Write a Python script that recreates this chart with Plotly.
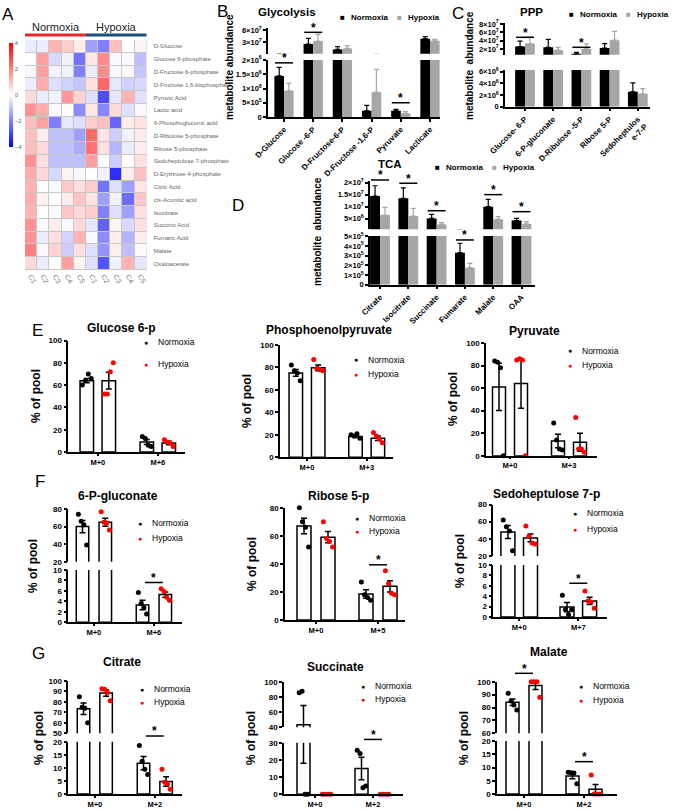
import numpy as np
import plotly.graph_objects as go

W, H = 685, 811
FONT = "Liberation Sans, Arial, sans-serif"
GREY = "#a6a6a6"
RED = "#ff0000"

# ---------------- A: heatmap ----------------
hm_rows = ["D-Glucose", "Glucose 6-phosphate", "D-Fructose 6-phosphate",
           "D-Fructose 1,6-bisphosphate", "Pyruvic Acid", "Lactic acid",
           "6-Phosphogluconic acid", "D-Ribulose 5-phosphate", "Ribose 5-phosphate",
           "Sedoheptulose 7-phosphate", "D-Erythrose 4-phosphate", "Citric Acid",
           "cis-Aconitic acid", "Isocitrate", "Succinic Acid", "Fumaric Acid",
           "Malate", "Oxaloacetate"]
hm_cols = ["C1", "C2", "C3", "C4", "C5", "C1", "C2", "C3", "C4", "C5"]
hm_z = [
    [-0.3, -0.3, 1.2, 0.8, 0.3, -1.5, -2.0, 1.0, 0.0, 0.2],
    [0.0, 1.5, -0.6, -0.2, -2.2, 0.4, 1.8, -0.1, -0.1, -1.0],
    [-0.1, 1.5, -0.2, -0.2, -2.0, -0.3, 1.8, -0.1, 0.1, -0.9],
    [-0.3, 1.3, -0.5, -0.7, -0.9, 0.5, 2.4, -0.4, -0.7, -0.6],
    [0.6, -0.3, -0.2, 1.6, 0.7, -0.5, -2.8, -0.4, 1.2, -0.5],
    [1.7, 1.3, -0.1, 0.0, -1.8, 0.4, -1.9, 0.6, -0.5, -0.1],
    [1.0, 1.5, -2.0, -0.4, -0.5, 0.8, 1.0, -2.4, 0.3, 0.5],
    [1.0, 0.3, -1.0, -1.0, -1.5, 2.3, 0.4, -0.8, -0.2, 0.3],
    [1.0, 0.6, -1.0, -1.0, -1.3, 2.2, 0.5, -1.2, -0.3, 0.3],
    [1.7, 0.5, -1.0, -1.0, -1.0, 1.5, 0.0, -0.8, 0.0, 0.5],
    [1.3, 0.6, -0.6, 0.2, -0.1, 0.0, -0.2, -3.3, 0.3, 1.0],
    [1.2, 0.0, -0.1, 0.9, 0.5, 0.8, -2.2, -0.5, -1.5, 0.4],
    [1.3, 0.2, 0.0, 0.3, 0.9, 0.4, -1.5, -0.2, -2.3, 0.9],
    [1.2, 0.0, -0.1, 0.9, 0.6, 0.8, -2.0, -0.5, -1.5, 0.5],
    [1.7, -0.1, 0.3, -0.1, 0.6, -0.4, -2.5, 0.2, -0.6, 0.5],
    [1.7, -0.3, 0.5, -0.7, 1.2, -0.1, -1.8, 0.3, -1.2, 0.3],
    [2.0, -0.1, 0.7, -0.8, 0.5, -0.5, -1.7, 0.3, -1.0, 0.1],
    [0.6, -0.3, 0.0, 1.5, 0.2, -0.5, -2.7, -0.2, 1.2, -0.4],
]

# ---------------- B: glycolysis ----------------
gly_cats = ["D-Glucose", "Glucose -6-P", "D-Fructose-6-P", "D-Fructose -1,6-P", "Pyruvate", "Lacticate"]
gly_norm = [1.44e6, 2.6e7, 1.3e7, 2.2e5, 2.2e5, 3.89e7]
gly_norm_err = [0.3e6, 1.37e7, 0.65e7, 1.9e5, 0.5e5, 0.5e7]
gly_hyp = [0.92e6, 3.32e7, 1.54e7, 8.7e5, 1.3e5, 3.4e7]
gly_hyp_err = [0.26e6, 1.63e7, 0.65e7, 8.0e5, 0.6e5, 0.33e7]
gly_sig = [(0, 0, 1.9e6), (1, 1, 5.44e7), (4, 0, 5.0e5)]
gly_ticks_lo = [0, 5e5, 1e6, 1.5e6, 2e6]
gly_text_lo = ["0", "5×10<sup>5</sup>", "1×10<sup>6</sup>", "1.5×10<sup>6</sup>", "2×10<sup>6</sup>"]
gly_ticks_hi = [3e7, 6e7]
gly_text_hi = ["3×10<sup>7</sup>", "6×10<sup>7</sup>"]

# ---------------- C: PPP ----------------
ppp_cats = ["Glucose- 6-P", "6-P-gluconate", "D-Ribulose -5-P", "Ribose 5-P", "Sedoheptulos<br>e-7-P"]
ppp_norm = [2.56e7, 2.4e7, 8.5e6, 2.2e7, 2.55e6]
ppp_norm_err = [1.3e7, 1.9e7, 3.5e6, 1.1e7, 1.55e6]
ppp_hyp = [3.3e7, 1.7e7, 2.0e7, 4.1e7, 2.2e6]
ppp_hyp_err = [1.5e7, 0.7e7, 1.2e7, 2.1e7, 0.9e6]
ppp_sig = [(0, 1, 4.8e7), (2, 1, 2.4e7)]
ppp_ticks_lo = [0, 2e6, 4e6, 6e6]
ppp_text_lo = ["0", "2×10<sup>6</sup>", "4×10<sup>6</sup>", "6×10<sup>6</sup>"]
ppp_ticks_hi = [2e7, 4e7, 6e7, 8e7]
ppp_text_hi = ["2×10<sup>7</sup>", "4×10<sup>7</sup>", "6×10<sup>7</sup>", "8×10<sup>7</sup>"]

# ---------------- D: TCA ----------------
tca_cats = ["Citrate", "Isocitrate", "Succinate", "Fumarate", "Malate", "OAA"]
tca_norm = [1.44e7, 1.35e7, 5.1e6, 3.31e5, 1.0e7, 4.2e6]
tca_norm_err = [4.3e6, 4.3e6, 1.7e6, 0.97e5, 3.0e6, 0.9e6]
tca_hyp = [6.5e6, 6.1e6, 2.6e6, 1.76e5, 4.7e6, 2.8e6]
tca_hyp_err = [3.2e6, 3.2e6, 0.7e6, 0.44e5, 1.1e6, 0.95e6]
tca_sig = [(0, 1, 2.11e7), (1, 1, 1.975e7), (2, 1, 8.3e6), (3, 0, 4.62e5), (4, 1, 1.5e7), (5, 1, 7.9e6)]
tca_ticks_lo = [0, 1e5, 2e5, 3e5, 4e5, 5e5]
tca_text_lo = ["0", "1×10<sup>5</sup>", "2×10<sup>5</sup>", "3×10<sup>5</sup>", "4×10<sup>5</sup>", "5×10<sup>5</sup>"]
tca_ticks_hi = [5e6, 1e7, 1.5e7, 2e7]
tca_text_hi = ["5×10<sup>6</sup>", "1×10<sup>7</sup>", "1.5×10<sup>7</sup>", "2×10<sup>7</sup>"]

# ---------------- E/F/G: % of pool ----------------
g6p_lab = ["M+0", "M+6"]
g6p_n, g6p_n_sem, g6p_n_pts = [64, 9], [2, 2.3], [[60, 64, 70, 66], [14, 12, 6, 5]]
g6p_h, g6p_h_sem, g6p_h_pts = [64, 8], [7.5, 1.6], [[52, 52, 72, 80], [11, 9, 8, 5]]

pep_lab = ["M+0", "M+3"]
pep_n, pep_n_sem, pep_n_pts = [75, 18.5], [3, 0.8], [[82, 77, 75, 68], [20, 19, 21, 17]]
pep_h, pep_h_sem, pep_h_pts = [79.5, 17], [2.5, 2], [[87, 79, 78, 77], [22, 19, 16, 13]]

pyr_lab = ["M+0", "M+3"]
pyr_n, pyr_n_sem, pyr_n_pts = [61, 13], [21, 6], [[84, 83, 78, 0], [29, 14, 6, 5]]
pyr_h, pyr_h_sem, pyr_h_pts = [64, 12], [22, 8], [[85, 86, 85, 0], [34, 6, 6, 3]]

pg_lab = ["M+0", "M+6"]
pg_n, pg_n_sem, pg_n_pts = [60, 3.3], [7, 0.9], [[74, 66, 62, 39], [5.7, 3.6, 2.8, 1.6]]
pg_h, pg_h_sem, pg_h_pts = [65, 5.3], [4.5, 0.5], [[77, 65, 64, 56], [6.4, 5.9, 4.8, 4.2]]

r5p_lab = ["M+0", "M+5"]
r5p_n, r5p_n_sem, r5p_n_pts = [67, 18.5], [5.5, 3], [[80, 70, 66, 52], [27, 18, 16, 14]]
r5p_h, r5p_h_sem, r5p_h_pts = [59, 24], [4, 4], [[70, 58, 56, 52], [35, 26, 19, 18]]

s7p_lab = ["M+0", "M+7"]
s7p_n, s7p_n_sem, s7p_n_pts = [48, 1.9], [7.5, 0.9], [[62, 54, 49, 26], [4.2, 1.4, 0.5, 1.4]]
s7p_h, s7p_h_sem, s7p_h_pts = [41, 3.1], [4.5, 0.7], [[55, 43, 35, 34], [5.0, 3.1, 2.9, 1.7]]

cit_lab = ["M+0", "M+2"]
cit_n, cit_n_sem, cit_n_pts = [73.5, 11.8], [5.5, 2.5], [[85, 75, 74, 60], [18.5, 12.5, 9.5, 7.5]]
cit_h, cit_h_sem, cit_h_pts = [88.5, 4.8], [3, 1.8], [[92.5, 92, 89, 81], [9.5, 4.5, 3.8, 1.8]]

suc_lab = ["M+0", "M+2"]
suc_n, suc_n_sem, suc_n_pts = [43.5, 15], [25.5, 6.5], [[86, 88, 0, 0], [25.6, 23.7, 3.8, 4.8]]
suc_h, suc_h_sem, suc_h_pts = [0, 0], [0, 0], [[0, 0, 0, 0], [0, 0, 0, 0]]

mal_lab = ["M+0", "M+2"]
mal_n, mal_n_sem, mal_n_pts = [84, 6.8], [2.5, 1], [[91, 85, 82, 78], [8.2, 8.0, 7.9, 3.9]]
mal_h, mal_h_sem, mal_h_pts = [97, 1.8], [3, 1.8], [[100, 100, 100, 88], [7.2, 0, 0, 0]]

# ================= figure building =================
fig = go.Figure()
layout = {}
shapes = []
annos = []
counters = {"x": 1, "y": 1}


def next_ax(letter):
    counters[letter] += 1
    n = counters[letter]
    return f"{letter}{n}", f"{letter}axis{n}"


def seg_paper(seg, v):
    top, bot, lo, hi = seg[:4]
    return 1 - (bot - (v - lo) / (hi - lo) * (bot - top)) / H


def text(x, y, s, size=10, bold=False, color="black", angle=0, xa="center", ya="middle"):
    annos.append(dict(x=x / W, y=1 - y / H, xref="paper", yref="paper", text=f"<b>{s}</b>" if bold else s,
                      showarrow=False, textangle=angle, xanchor=xa, yanchor=ya,
                      font=dict(family=FONT, size=size, color=color)))


def make_axes(left, right, xrange, segs, ticktext, tickangle, xfont, yfont):
    xref, xkey = next_ax("x")
    yrefs = []
    for seg in segs:
        top, bot, lo, hi, tv, tt = seg
        yref, ykey = next_ax("y")
        yrefs.append(yref)
        ax = dict(domain=[1 - bot / H, 1 - top / H], range=[lo, hi], anchor=xref,
                  tickvals=tv, showline=True, linecolor="black", linewidth=1.5,
                  ticks="outside", ticklen=3, tickwidth=1.5, tickcolor="black",
                  showgrid=False, zeroline=False,
                  tickfont=dict(family=FONT, size=yfont, color="black", weight="bold"))
        if tt is not None:
            ax["ticktext"] = tt
        layout[ykey] = ax
    layout[xkey] = dict(domain=[left / W, right / W], range=list(xrange), anchor=yrefs[0],
                        tickvals=list(range(len(ticktext))), ticktext=ticktext, tickangle=tickangle,
                        showline=True, linecolor="black", linewidth=1.5, ticks="outside", ticklen=3,
                        tickwidth=1.5, tickcolor="black", showgrid=False, zeroline=False,
                        tickfont=dict(family=FONT, size=xfont, color="black", weight="bold"))
    return xref, yrefs


def sig_mark(xref, segs, i, s, v, half):
    yp = seg_paper(segs[s], v)
    shapes.append(dict(type="line", xref=xref, yref="paper", x0=i - half, x1=i + half, y0=yp, y1=yp,
                       line=dict(color="black", width=1.5)))
    annos.append(dict(x=i, y=yp, xref=xref, yref="paper", text="<b>*</b>", showarrow=False,
                      yanchor="bottom", yshift=-4.5, font=dict(family=FONT, size=12, color="black")))


def bar_panel(left, right, c0, sp, segs, cats, nv, ne, hv, he, bw, sigs):
    xref, yrefs = make_axes(left, right, ((left - c0) / sp, (right - c0) / sp), segs, cats, -45, 8, 7.5)
    n = len(cats)
    for yref in yrefs:
        for vals, errs, col, off in ((nv, ne, "black", -bw), (hv, he, GREY, 0)):
            fig.add_trace(go.Bar(x=list(range(n)), y=vals, offset=off, width=bw,
                                 marker=dict(color=col, line=dict(width=0)),
                                 error_y=dict(type="data", array=errs, arrayminus=[0] * n, symmetric=False,
                                              color=col, thickness=1.2, width=2.5),
                                 xaxis=xref, yaxis=yref, showlegend=False, hoverinfo="skip"))
    for i, s, v in sigs:
        sig_mark(xref, segs, i, s, v, 9 / sp)


def dot_panel(axis_px, c0, sp, right, off, w, segs, labels, nv, ns, npts, hv, hs, hpts, sigs):
    xref, yrefs = make_axes(axis_px, right, ((axis_px - c0) / sp, (right - c0) / sp), segs, labels, 0, 7.5, 8)
    layout["xaxis" + xref[1:]]["ticklen"] = 2
    o, bw = off / sp, w / sp
    for yref in yrefs:
        for vals, sem, side in ((nv, ns, -1), (hv, hs, 1)):
            fig.add_trace(go.Bar(x=[0, 1], y=vals, offset=side * o - bw / 2, width=bw,
                                 marker=dict(color="white", line=dict(color="black", width=1.5)),
                                 error_y=dict(type="data", array=sem, color="black", thickness=1.5, width=3),
                                 xaxis=xref, yaxis=yref, showlegend=False, hoverinfo="skip"))
    los = [s[2] for s in segs]
    for pts, side, col in ((npts, -1, "black"), (hpts, 1, RED)):
        xs = [[] for _ in segs]
        ys = [[] for _ in segs]
        for i, grp in enumerate(pts):
            jit = np.linspace(-0.33, 0.33, len(grp)) * bw
            for j, v in enumerate(grp):
                k = max(idx for idx, lo in enumerate(los) if v >= lo or idx == 0)
                xs[k].append(i + side * o + jit[j])
                ys[k].append(v)
        for k, yref in enumerate(yrefs):
            if xs[k]:
                fig.add_trace(go.Scatter(x=xs[k], y=ys[k], mode="markers", cliponaxis=False,
                                         marker=dict(color=col, size=5), xaxis=xref, yaxis=yref,
                                         showlegend=False, hoverinfo="skip"))
    for i, s, v in sigs:
        sig_mark(xref, segs, i, s, v, 9 / sp)


# ---- A ----
fig.add_trace(go.Heatmap(z=hm_z, x=list(range(10)), y=list(range(18)), zmin=-4, zmax=4,
                         colorscale=[[0, "#0000ff"], [0.5, "#ffffff"], [1, "#ff0000"]], xgap=1, ygap=1,
                         xaxis="x", yaxis="y", hoverinfo="skip",
                         colorbar=dict(x=9 / W, xanchor="left", xpad=0, ypad=0, y=1 - 95 / H, yanchor="middle",
                                       len=104, lenmode="pixels", thickness=4, outlinewidth=0, ticks="",
                                       tickvals=[-4, -2, 0, 2, 4], tickfont=dict(family=FONT, size=6, color="#666"))))
layout["xaxis"] = dict(domain=[25 / W, 146.7 / W], range=[-0.5, 9.5], anchor="y", tickvals=list(range(10)),
                       ticktext=hm_cols, tickangle=60, showgrid=False, zeroline=False, showline=False,
                       tickfont=dict(family=FONT, size=7, color="#777"))
layout["yaxis"] = dict(domain=[1 - 270 / H, 1 - 40 / H], range=[17.5, -0.5], anchor="x", side="right",
                       tickvals=list(range(18)), ticktext=hm_rows, showgrid=False, zeroline=False,
                       ticklabelstandoff=6, tickfont=dict(family=FONT, size=6, color="#666"))
shapes.append(dict(type="rect", xref="x", yref="y", x0=-0.5, x1=9.5, y0=-0.5, y1=17.5, layer="below",
                   fillcolor="#c8c8c8", line=dict(width=0)))
shapes.append(dict(type="line", xref="x", yref="paper", x0=-0.5, x1=4.5, y0=1 - 35 / H, y1=1 - 35 / H,
                   line=dict(color="#e8262b", width=3)))
shapes.append(dict(type="line", xref="x", yref="paper", x0=4.5, x1=9.5, y0=1 - 35 / H, y1=1 - 35 / H,
                   line=dict(color="#1d4f7c", width=3)))
text(55.5, 26.5, "Normoxia", 11, color="#222")
text(116.7, 26.5, "Hypoxia", 11, color="#222")

# ---- B / C / D ----
bar_panel(268, 440, 284, 29.2,
          [(60, 117, 0, 2e6, gly_ticks_lo, gly_text_lo), (28, 53.7, 2.5e6, 6.49e7, gly_ticks_hi, gly_text_hi)],
          gly_cats, gly_norm, gly_norm_err, gly_hyp, gly_hyp_err, 0.33, gly_sig)
bar_panel(505, 650, 525, 28.2,
          [(70, 106.7, 0, 6.29e6, ppp_ticks_lo, ppp_text_lo), (22.7, 54.7, 6.2e6, 8.3e7, ppp_ticks_hi, ppp_text_hi)],
          ppp_cats, ppp_norm, ppp_norm_err, ppp_hyp, ppp_hyp_err, 0.35, ppp_sig)
bar_panel(370, 535, 380, 28.3,
          [(236, 284.7, 0, 5.03e5, tca_ticks_lo, tca_text_lo), (180.7, 229.3, 5.6e5, 2.08e7, tca_ticks_hi, tca_text_hi)],
          tca_cats, tca_norm, tca_norm_err, tca_hyp, tca_hyp_err, 0.35, tca_sig)

for tx, ty, title, lx, ly in ((287, 12, "Glycolysis", 338, 18), (531.7, 12, "PPP", 567, 14),
                              (390, 164, "TCA", 433, 167)):
    text(tx, ty, title, 11.5, bold=True)
    text(lx, ly, "■", 8, xa="left")
    text(lx + 11, ly, "Normoxia", 8, bold=True, xa="left")
    text(lx + 57, ly, "■", 8, color=GREY, xa="left")
    text(lx + 68, ly, "Hypoxia", 8, bold=True, xa="left")
text(230, 67, "metabolite abundance", 10, bold=True, angle=-90)
text(470, 66, "metabolite  abundance", 10, bold=True, angle=-90)
text(317, 232, "metabolite  abundance", 10, bold=True, angle=-90)

# ---- E / F / G ----
T100 = [0, 20, 40, 60, 80, 100]
dot_panel(68.3, 97.8, 60, 185, 11, 13.5, [(340.5, 452, 0, 100, T100, None)], g6p_lab,
          g6p_n, g6p_n_sem, g6p_n_pts, g6p_h, g6p_h_sem, g6p_h_pts, [])
dot_panel(280, 307, 59.7, 393.3, 11.2, 13.5, [(344.8, 457.3, 0, 100, T100, None)], pep_lab,
          pep_n, pep_n_sem, pep_n_pts, pep_h, pep_h_sem, pep_h_pts, [])
dot_panel(486, 510, 59, 597, 11, 13, [(343, 455.7, 0, 100, T100, None)], pyr_lab,
          pyr_n, pyr_n_sem, pyr_n_pts, pyr_h, pyr_h_sem, pyr_h_pts, [])

dot_panel(68.3, 93.9, 60, 181.7, 11.4, 12.5,
          [(570, 622.3, 0, 10, [0, 2, 4, 6, 8, 10], None), (509, 561.7, 20, 80, [20, 40, 60, 80], None)], pg_lab,
          pg_n, pg_n_sem, pg_n_pts, pg_h, pg_h_sem, pg_h_pts, [(1, 0, 7.6)])
dot_panel(285, 316, 62, 405, 12, 14, [(507.7, 620, 0, 80, [0, 20, 40, 60, 80], None)], r5p_lab,
          r5p_n, r5p_n_sem, r5p_n_pts, r5p_h, r5p_h_sem, r5p_h_pts, [(1, 0, 39.3)])
dot_panel(493.3, 519.2, 59.1, 606.7, 11.3, 14,
          [(565, 617, 0, 10, [0, 2, 4, 6, 8, 10], None), (504.5, 556, 20, 80, [20, 40, 60, 80], None)], s7p_lab,
          s7p_n, s7p_n_sem, s7p_n_pts, s7p_h, s7p_h_sem, s7p_h_pts, [(1, 0, 6.5)])

dot_panel(68.3, 94.8, 60, 181.7, 11.3, 12.5,
          [(741.7, 794, 0, 20, [0, 5, 10, 15, 20], None), (681, 733.3, 50, 100, [50, 60, 70, 80, 90, 100], None)],
          cit_lab, cit_n, cit_n_sem, cit_n_pts, cit_h, cit_h_sem, cit_h_pts, [(1, 0, 22.2)])
dot_panel(284, 315, 58, 403, 11.5, 13,
          [(742.7, 794.3, 0, 30, [0, 10, 20, 30], None), (682.3, 727.3, 40, 100, [40, 60, 80, 100], None)],
          suc_lab, suc_n, suc_n_sem, suc_n_pts, suc_h, suc_h_sem, suc_h_pts, [(1, 0, 31.9)])
dot_panel(497, 524, 60, 617, 11.5, 13,
          [(741, 794, 0, 20, [0, 5, 10, 15, 20], None), (681.7, 733.3, 60, 100, [60, 70, 80, 90, 100], None)],
          mal_lab, mal_n, mal_n_sem, mal_n_pts, mal_h, mal_h_sem, mal_h_pts, [(0, 1, 106.5), (1, 0, 12.2)])

# titles, y labels, legends for the isotopologue panels
for tx, ty, title in ((121, 328, "Glucose 6-p"), (329, 330, "Phosphoenolpyruvate"), (534, 331, "Pyruvate"),
                      (118, 496, "6-P-gluconate"), (338, 496, "Ribose 5-p"), (546, 494, "Sedoheptulose 7-p"),
                      (122, 662, "Citrate"), (335, 667, "Succinate"), (549, 652, "Malate")):
    text(tx, ty, title, 12, bold=True)
for lx, ly in ((36, 396), (247, 401), (453, 399), (33, 566), (252, 564), (460, 561),
               (39, 738), (251, 738), (464, 738)):
    text(lx, ly, "% of pool", 12, bold=True, angle=-90)
for dx, yn, yh in ((146, 342, 364), (356, 360, 374), (570, 351, 365), (140, 523, 538), (357, 518, 531),
                   (575, 513, 529), (142, 689, 702), (363, 686, 699), (581, 686, 700)):
    text(dx, yn, "●", 7)
    text(dx, yh, "●", 7, color=RED)
    text(dx + 10, yn, "Normoxia", 8.5, xa="left")
    text(dx + 10, yh, "Hypoxia", 8.5, xa="left")

for lx, ly, lab in ((8, 15, "A"), (222, 11, "B"), (458, 13, "C"), (238, 205, "D"), (37, 330, "E"),
                    (40, 482, "F"), (38, 653, "G")):
    text(lx, ly, lab, 17)

fig.update_layout(width=W, height=H, margin=dict(l=0, r=0, t=0, b=0, autoexpand=False), paper_bgcolor="white",
                  plot_bgcolor="white", showlegend=False, barmode="overlay",
                  shapes=shapes, annotations=annos, font=dict(family=FONT), **layout)
fig.write_html("out.html", config={"displayModeBar": False},
               post_script="document.body.style.margin='0';")
